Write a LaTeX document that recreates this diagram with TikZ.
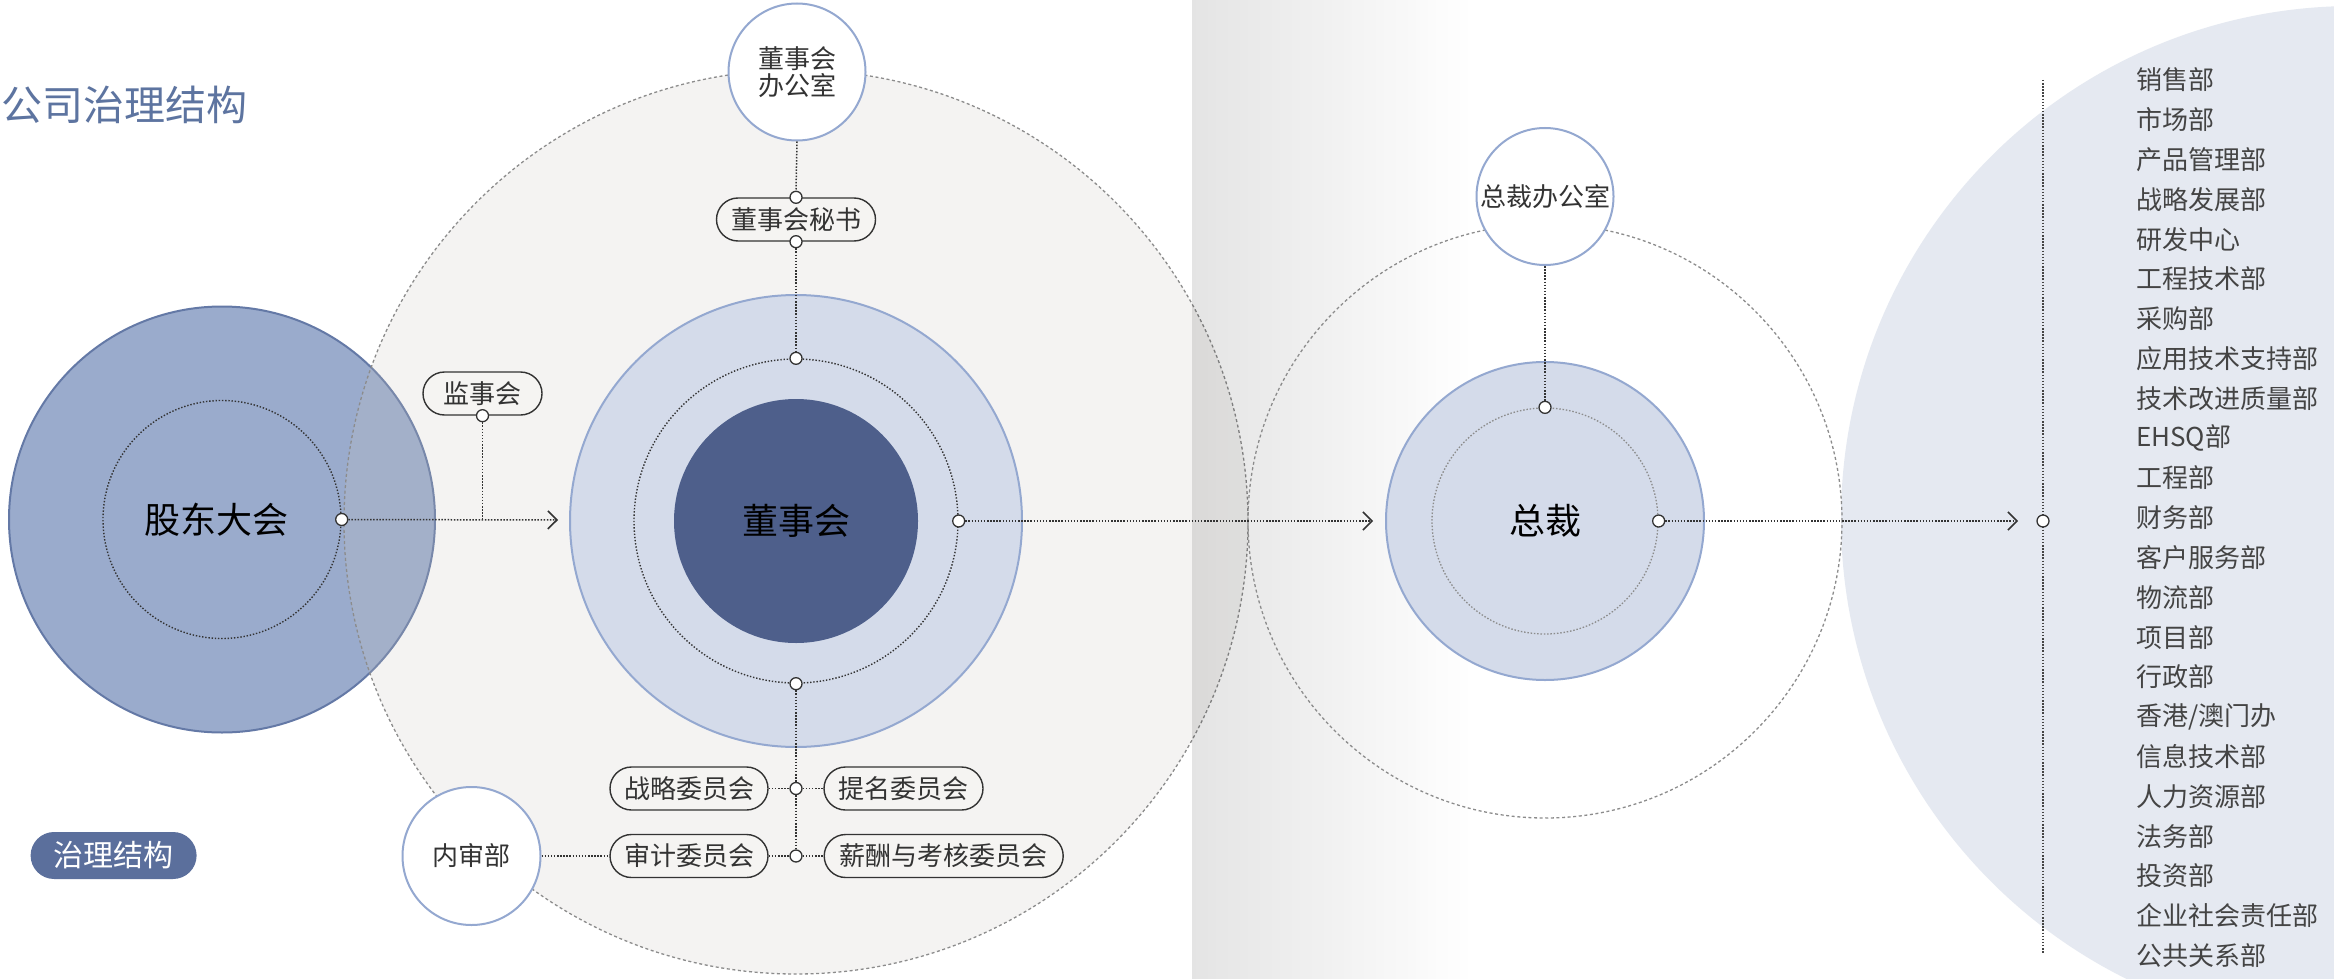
\documentclass[tikz,border=0pt]{standalone}
\usepackage{fontspec}
\setmainfont{Noto Sans CJK SC}
\usetikzlibrary{arrows.meta,shapes.misc}
\definecolor{txt}{HTML}{333333}
\definecolor{deptxt}{HTML}{444444}
\definecolor{titlec}{HTML}{5D74A0}
\definecolor{gdfill}{HTML}{9AABCC}
\definecolor{gddraw}{HTML}{6479A6}
\definecolor{lightfill}{HTML}{D4DBEA}
\definecolor{lightdraw}{HTML}{94A8D0}
\definecolor{darkfill}{HTML}{4E5F8B}
\definecolor{bigbg}{HTML}{E5E9F1}
\definecolor{pillbg}{HTML}{F5F4F2}
\definecolor{tagfill}{HTML}{5B6F9C}
\definecolor{areac}{HTML}{CBC5BE}
\begin{document}
\begin{tikzpicture}[x=1pt,y=-1pt,
  every node/.style={text=txt, font=\fontsize{26}{30}\selectfont},
  dotn/.style={circle, fill=white, draw=txt, line width=1.3pt, inner sep=0pt, minimum size=12pt},
  pill/.style={rounded rectangle, draw=txt, line width=1.4pt, fill=pillbg, inner sep=0pt, minimum height=43pt},
  ring/.style={circle, inner sep=0pt},
  innerdots/.style={ring, draw=txt, line width=1.4pt, dash pattern=on 1.4pt off 1.8pt},
  graydash/.style={ring, draw=black!45, line width=1.3pt, dash pattern=on 3pt off 2.6pt},
  office/.style={ring, fill=white, draw=lightdraw, line width=2pt, minimum size=137pt},
  conn/.style={draw=txt, line width=1.5pt, dash pattern=on 1.5pt off 1.6pt},
  arr/.style={conn, -{Straight Barb[length=9pt,width=18pt,line width=1.6pt]}},
  dept/.style={anchor=west, inner sep=0pt, text=deptxt}
]
\useasboundingbox (0,0) rectangle (2334,979);
\clip (0,0) rectangle (2334,979);
\fill[white] (0,0) rectangle (2334,979);

% right background circle
\node[ring, fill=bigbg, minimum size=1026pt] (deptarea) at (2354,519) {};

% shareholders meeting
\node[ring, fill=gdfill, draw=gddraw, line width=2pt, minimum size=426pt] (gd) at (222,519.5) {};
\node[innerdots, minimum size=238pt] (gdin) at (222,519.5) {};

% board area (translucent)
\node[graydash, fill=areac, fill opacity=0.2, minimum size=904pt] (bdarea) at (796,522) {};
\node[font=\fontsize{36}{40}\selectfont, text=black] (gdlabel) at (216,519.5) {股东大会};

% gray vertical band with gradient
\foreach \i in {0,...,69}{
  \fill[black, fill opacity={0.105*(1-\i/70)}] ({1192+\i*4},0) rectangle ({1192+(\i+1)*4},979);
}

% board
\node[ring, fill=lightfill, draw=lightdraw, line width=2pt, minimum size=452pt] (bdout) at (796,521) {};
\node[innerdots, minimum size=324pt] (bdin) at (796,521) {};
\node[ring, fill=darkfill, minimum size=244pt, font=\fontsize{36}{40}\selectfont, text=black] (bd) at (796,521) {董事会};

% board office and secretary
\node[office, align=center, font=\fontsize{26}{27}\selectfont] (bdoffice) at (797,72) {董事会\\办公室};
\node[pill, minimum width=159pt] (secr) at (796,219.5) {董事会秘书};
\node[dotn] (secrtop) at (secr.north) {};
\node[dotn] (secrbot) at (secr.south) {};
\node[dotn] (bdtop) at (bdin.north) {};
\draw[conn] (bdoffice.south) -- (secrtop.north);
\draw[conn] (secrbot.south) -- (bdtop.north);

% supervisory board
\node[dotn] (gddot) at (gdin.east) {};
\node[pill, minimum width=119pt] (sup) at (482.5,393.5) {监事会};
\node[dotn] (supdot) at (sup.south) {};
\coordinate (suphit) at (482.5,520);
\coordinate (arr1end) at (558,520);
\draw[arr] (gddot.east) -- (arr1end);
\draw[conn] (supdot.south) -- (suphit);

% committees
\node[dotn] (bdbot) at (bdin.south) {};
\node[dotn] (c1dot) at (796,788.5) {};
\node[dotn] (c2dot) at (796,856) {};
\node[pill, minimum width=158pt] (zl) at (689,788.5) {战略委员会};
\node[pill, minimum width=159pt] (tm) at (903.5,788.5) {提名委员会};
\node[pill, minimum width=158pt] (sj) at (689,856) {审计委员会};
\node[pill, minimum width=239pt] (xc) at (943.7,856) {薪酬与考核委员会};
\draw[conn] (bdbot.south) -- (c1dot.north);
\draw[conn] (c1dot.south) -- (c2dot.north);
\draw[conn] (zl.east) -- (c1dot.west);
\draw[conn] (c1dot.east) -- (tm.west);
\draw[conn] (sj.east) -- (c2dot.west);
\draw[conn] (c2dot.east) -- (xc.west);

% internal audit
\node[office, minimum size=138pt] (nsb) at (471.5,856) {内审部};
\draw[conn] (nsb.east) -- (sj.west);

% tag and title
\node[rounded rectangle, fill=tagfill, text=white, inner sep=0pt, minimum width=166pt, minimum height=47pt, font=\fontsize{30}{32}\selectfont] (tag) at (113.6,855.5) {治理结构};
\node[anchor=west, inner sep=0pt, text=titlec, font=\fontsize{41}{45}\selectfont] (title) at (1,105) {公司治理结构};

% president
\node[graydash, minimum size=594pt] (przone) at (1545,521) {};
\node[ring, fill=lightfill, draw=lightdraw, line width=2pt, minimum size=318pt] (prout) at (1545,521) {};
\node[ring, draw=black!45, line width=1.3pt, dash pattern=on 1.5pt off 1.8pt, minimum size=226pt, font=\fontsize{36}{40}\selectfont, text=black] (pr) at (1545,521) {总裁};
\node[office] (proffice) at (1545,196.5) {总裁办公室};
\node[dotn] (prtop) at (pr.north) {};
\node[dotn] (prright) at (pr.east) {};
\draw[conn] (proffice.south) -- (prtop.north);

\node[dotn] (bdright) at (bdin.east) {};
\coordinate (arr2end) at (1373,521);
\draw[arr] (bdright.east) -- (arr2end);

% departments
\coordinate (vtop) at (2043,80);
\coordinate (vbot) at (2043,953);
\draw[conn, draw=deptxt] (vtop) -- (vbot);
\node[dotn] (deptdot) at (2043,521) {};
\coordinate (arr3end) at (2018,521);
\draw[arr] (prright.east) -- (arr3end);

\foreach \name [count=\i from 0] in {销售部,市场部,产品管理部,战略发展部,研发中心,工程技术部,采购部,应用技术支持部,技术改进质量部,EHSQ部,工程部,财务部,客户服务部,物流部,项目部,行政部,香港/澳门办,信息技术部,人力资源部,法务部,投资部,企业社会责任部,公共关系部}{
  \node[dept] (dept\i) at (2136,{80+39.8*\i}) {\name};
}
\end{tikzpicture}
\end{document}
